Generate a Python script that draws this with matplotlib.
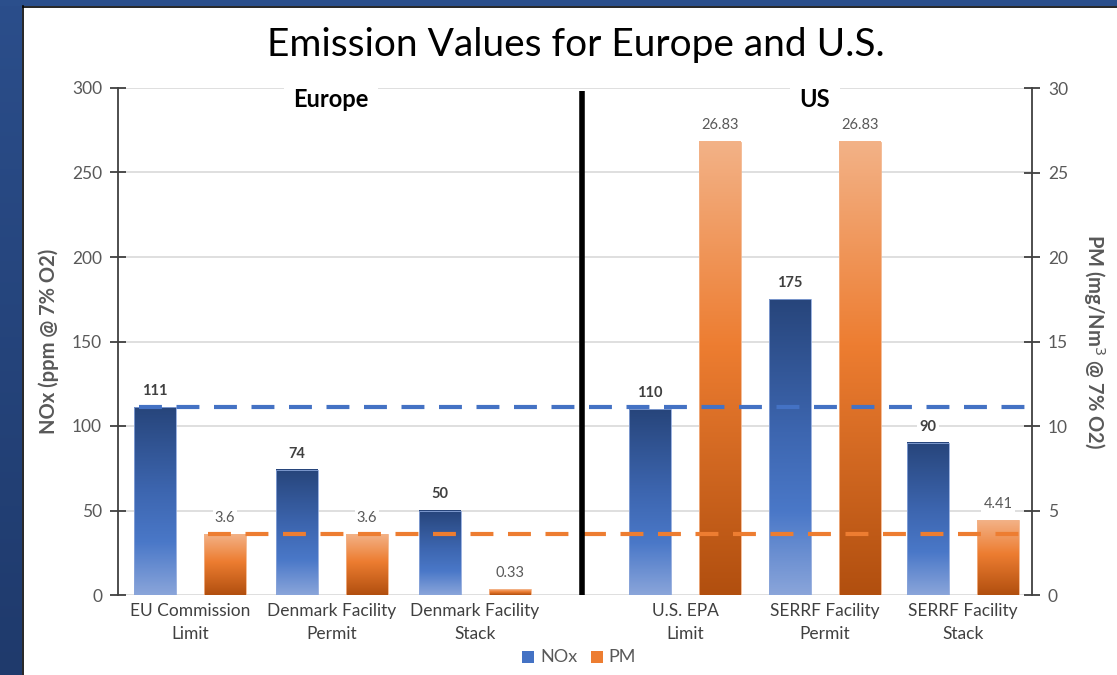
import matplotlib
matplotlib.use("Agg")
import matplotlib.pyplot as plt
import numpy as np
from matplotlib.colors import LinearSegmentedColormap
from matplotlib.patches import Rectangle

plt.rcParams['font.family'] = ['Lato', 'DejaVu Sans']

# ---- data ----
categories = ["EU Commission\nLimit", "Denmark Facility\nPermit", "Denmark Facility\nStack",
              "U.S. EPA\nLimit", "SERRF Facility\nPermit", "SERRF Facility\nStack"]
nox_values = [111, 74, 50, 110, 175, 90]
pm_values = [3.6, 3.6, 0.33, 26.83, 26.83, 4.41]
nox_labels = ["111", "74", "50", "110", "175", "90"]
pm_labels = ["3.6", "3.6", "0.33", "26.83", "26.83", "4.41"]
nox_limit = 111
pm_limit = 3.6
region_names = ["Europe", "US"]
nox_ticks = [0, 50, 100, 150, 200, 250, 300]
pm_ticks = [0, 5, 10, 15, 20, 25, 30]

# ---- layout (pixel-like x units) ----
W, H = 1117, 675
group_x = [190, 332, 475, 685, 825, 963]
offset = 35
bar_w = 42
divider_x = 582
region_x = [331, 815]

fig = plt.figure(figsize=(W / 100, H / 100), dpi=100)
fig.patch.set_facecolor('white')

# border strips
bax = fig.add_axes([0, 0, 22 / W, 1])
grad = np.linspace(0, 1, 256).reshape(-1, 1)
bax.imshow(grad, aspect='auto', cmap=LinearSegmentedColormap.from_list('b', ['#2b4e8b', '#1f3a6c']),
           extent=[0, 1, 0, 1])
bax.axis('off')
tax = fig.add_axes([0, 1 - 6 / H, 1, 6 / H])
tax.set_facecolor('#2b4f8c')
tax.set_xticks([]); tax.set_yticks([])
for s in tax.spines.values():
    s.set_visible(False)
fig.add_artist(plt.Line2D([22.5 / W, 22.5 / W], [0, 1 - 6 / H], color='black', lw=1.2))
fig.add_artist(plt.Line2D([22.5 / W, 1], [1 - 6.5 / H, 1 - 6.5 / H], color='black', lw=1.2))

left, right = 118 / W, 1032 / W
bottom, top = 1 - 595 / H, 1 - 88 / H
ax = fig.add_axes([left, bottom, right - left, top - bottom])
ax2 = ax.twinx()

cm_nox = LinearSegmentedColormap.from_list('nox', [(0, '#27457b'), (0.45, '#3d66b0'),
                                                    (0.72, '#4a78c8'), (1, '#8aa5da')])
cm_pm = LinearSegmentedColormap.from_list('pm', [(0, '#f3b287'), (0.45, '#ed7d31'),
                                                  (1, '#b14f0f')])

# grid
for t in nox_ticks:
    ax.axhline(t, color='#d9d9d9', lw=1.2, zorder=0)

def grad_bar(axis, xc, h, cmap, base):
    x0, x1 = xc - bar_w / 2, xc + bar_w / 2
    axis.imshow(grad, aspect='auto', cmap=cmap, extent=[x0, x1, 0, h], zorder=2,
                interpolation='bilinear')
    axis.add_patch(Rectangle((x0, 0), bar_w, h, fill=False, edgecolor=base, lw=0.6, zorder=2.1))

for i, xc in enumerate(group_x):
    grad_bar(ax, xc - offset, nox_values[i], cm_nox, '#8aa5da')
    ax.text(xc - offset, nox_values[i] + 5.5, nox_labels[i], ha='center', va='bottom',
            fontsize=10.5, fontweight='bold', color='#404040', zorder=5,
            bbox=dict(facecolor='white', edgecolor='none', pad=1.5))
for i, xc in enumerate(group_x):
    grad_bar(ax2, xc + offset, pm_values[i], cm_pm, '#f3b287')
    ax2.text(xc + offset, pm_values[i] + 0.55, pm_labels[i], ha='center', va='bottom',
             fontsize=10.5, color='#595959', zorder=5,
             bbox=dict(facecolor='white', edgecolor='none', pad=1.5))

ax.set_xlim(118, 1032); ax2.set_xlim(118, 1032)
ax.set_ylim(0, 300); ax2.set_ylim(0, 30)

# limit lines (drawn on top axes)
ax2.plot([group_x[0] - offset - 16, 1032], [nox_limit, nox_limit], transform=ax.transData,
         color='#4472c4', lw=3, dashes=(5.5, 3.5), zorder=6, clip_on=False)
ax2.plot([group_x[0] + offset - 17, 1025], [pm_limit, pm_limit],
         color='#ed7d31', lw=3, dashes=(5.5, 3.5), zorder=6)

# divider
ax2.plot([divider_x, divider_x], [0, 298], transform=ax.transData, color='black', lw=4,
         zorder=7, solid_capstyle='butt')

# region labels
for name, rx in zip(region_names, region_x):
    ax2.text(rx, 300, name, transform=ax.transData, ha='center', va='top', fontsize=17,
             fontweight='bold', color='black', zorder=8,
             bbox=dict(facecolor='white', edgecolor='none', boxstyle='square,pad=0.4'))

# axes styling
for a in (ax, ax2):
    for s in ('top', 'bottom'):
        a.spines[s].set_visible(False)
    a.set_facecolor('none')
ax.spines['left'].set_color('#404040'); ax.spines['left'].set_linewidth(1.3)
ax.spines['right'].set_visible(False)
ax2.spines['left'].set_visible(False)
ax2.spines['right'].set_color('#404040'); ax2.spines['right'].set_linewidth(1.3)

ax.set_yticks(nox_ticks)
ax.set_yticklabels([str(t) for t in nox_ticks])
ax2.set_yticks(pm_ticks)
ax2.set_yticklabels([str(t) for t in pm_ticks])
ax.tick_params(axis='y', direction='inout', length=11, width=1.3, color='#404040',
               labelsize=12.5, labelcolor='#595959', pad=6)
ax2.tick_params(axis='y', direction='inout', length=11, width=1.3, color='#404040',
                labelsize=12.5, labelcolor='#595959', pad=6)

ax.set_xticks(group_x)
ax.set_xticklabels(categories, fontsize=12.5, color='#404040', linespacing=1.5)
ax.tick_params(axis='x', length=0, pad=6)

ax.set_ylabel("NOx (ppm @ 7% O2)", fontsize=14.5, fontweight='bold', color='#595959', labelpad=9)
ax2.set_ylabel("PM (mg/Nm$^3$ @ 7% O2)", fontsize=14.5, fontweight='bold', color='#595959',
               rotation=270, labelpad=28)

fig.text(576 / W, 1 - 45 / H, "Emission Values for Europe and U.S.", ha='center', va='center',
         fontsize=28, color='black')

# legend
fig.patches.append(Rectangle((522 / W, 1 - 663 / H), 12 / W, 12 / H, transform=fig.transFigure,
                             facecolor='#4472c4', edgecolor='none', figure=fig))
fig.text(540 / W, 1 - 657 / H, "NOx", fontsize=13, color='#595959', va='center', ha='left')
fig.patches.append(Rectangle((591 / W, 1 - 663 / H), 12 / W, 12 / H, transform=fig.transFigure,
                             facecolor='#ed7d31', edgecolor='none', figure=fig))
fig.text(608 / W, 1 - 657 / H, "PM", fontsize=13, color='#595959', va='center', ha='left')

fig.savefig("out.png", dpi=100)
